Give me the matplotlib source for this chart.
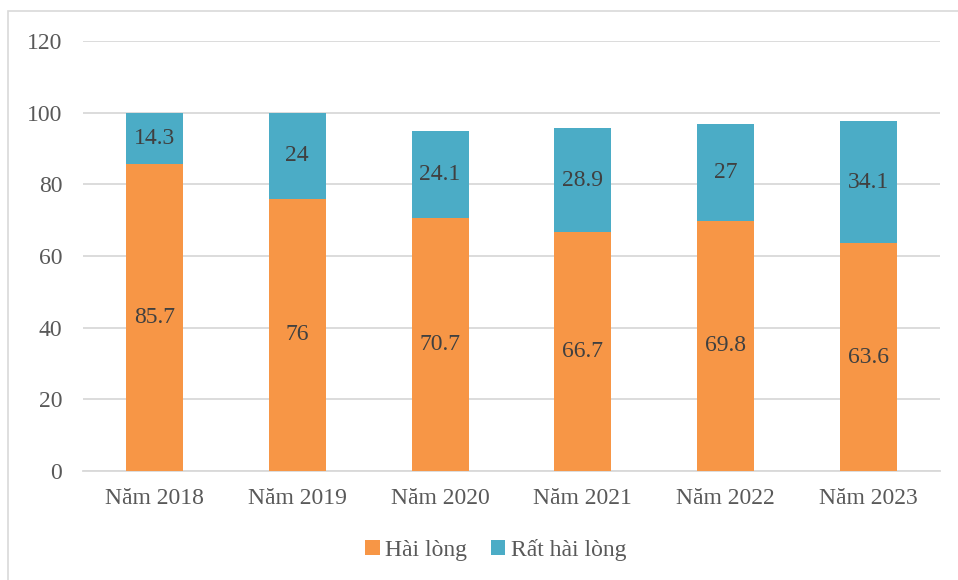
import matplotlib
matplotlib.use("Agg")
import matplotlib.pyplot as plt
from matplotlib.patches import Rectangle
import numpy as np

# Data
years = ["Năm 2018", "Năm 2019", "Năm 2020", "Năm 2021", "Năm 2022", "Năm 2023"]
hai_long = [85.7, 76, 70.7, 66.7, 69.8, 63.6]
rat_hai_long = [14.3, 24, 24.1, 28.9, 27, 34.1]
series_names = ["Hài lòng", "Rất hài lòng"]
y_ticks = [0, 20, 40, 60, 80, 100, 120]

plt.rcParams["font.family"] = ["Liberation Serif", "DejaVu Serif"]

orange = "#F79646"
teal = "#4BACC6"
tick_color = "#595959"
label_color = "#404040"
grid_color = "#D9D9D9"

fig = plt.figure(figsize=(9.58, 5.8), dpi=100)
ax = fig.add_axes([83 / 958, 1 - 471 / 580, (940 - 83) / 958, (471 - 41) / 580])

# outer chart border (top and left visible, rest runs off the image)
fig.patches.append(Rectangle((8 / 958, -0.2), 1.2, 1.2 - 11 / 580,
                             transform=fig.transFigure, fill=False,
                             edgecolor=grid_color, linewidth=1.2))

x = np.arange(len(years))
w = 0.4
b1 = ax.bar(x, hai_long, w, color=orange, label=series_names[0], zorder=2)
b2 = ax.bar(x, rat_hai_long, w, bottom=hai_long, color=teal, label=series_names[1], zorder=2)

for rect, v in zip(b1, hai_long):
    ax.text(rect.get_x() + rect.get_width() / 2, v / 2, f"{v:g}",
            ha="center", va="center", fontsize=17, color=label_color, zorder=3)
for rect, v, base in zip(b2, rat_hai_long, hai_long):
    ax.text(rect.get_x() + rect.get_width() / 2, base + v / 2, f"{v:g}",
            ha="center", va="center", fontsize=17, color=label_color, zorder=3)

ax.set_xlim(-0.5, len(years) - 0.5)
ax.set_ylim(0, 120)
ax.set_yticks(y_ticks)
ax.set_xticks(x)
ax.set_xticklabels(years)
ax.yaxis.grid(True, color=grid_color, linewidth=1.3, zorder=0)
ax.set_axisbelow(True)

for s in ["top", "right", "left"]:
    ax.spines[s].set_visible(False)
ax.spines["bottom"].set_color(grid_color)
ax.spines["bottom"].set_linewidth(1.3)
ax.spines["bottom"].set_zorder(1)

ax.tick_params(axis="y", length=0, pad=15, labelsize=17, labelcolor=tick_color)
ax.tick_params(axis="x", length=0, pad=12, labelsize=17, labelcolor=tick_color)

fig.legend(handles=[b1, b2], labels=series_names, loc="center",
           bbox_to_anchor=(496 / 958, 1 - 550 / 580), ncol=2, frameon=False,
           fontsize=17, labelcolor=tick_color, handlelength=0.6, handleheight=0.6,
           handletextpad=0.25, columnspacing=1.0)

fig.savefig("out.png", dpi=100)
